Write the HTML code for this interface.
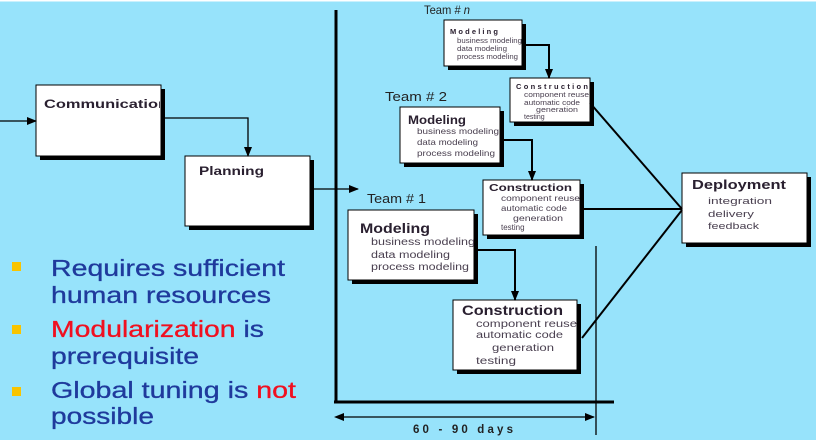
<!DOCTYPE html>
<html><head><meta charset="utf-8"><style>
html,body{margin:0;padding:0;background:#97e3fb;}
svg{display:block}
text{font-family:"Liberation Sans",Arial,sans-serif}
.h{font-weight:bold;fill:#2a2030}
.s{fill:#4a4050}
.b{font-size:23px;fill:#1f3a9c;stroke:#1f3a9c;stroke-width:0.3}
.r{fill:#f01020;stroke:#f01020}
</style></head><body>
<svg width="816" height="440" viewBox="0 0 816 440" xmlns="http://www.w3.org/2000/svg">
<defs>
<marker id="a" markerWidth="10" markerHeight="10" refX="9" refY="5" orient="auto" markerUnits="userSpaceOnUse"><path d="M0,1 L10,5 L0,9 z" fill="#000"/></marker>
<clipPath id="cc"><rect x="36" y="85" width="124" height="71"/></clipPath>
<clipPath id="cm"><rect x="348" y="210" width="126" height="70"/></clipPath>
</defs>
<rect width="816" height="440" fill="#97e3fb"/>
<rect width="816" height="1.5" fill="#ffffff"/>
<g fill="#000">
<rect x="40" y="89" width="125" height="71"/>
<rect x="189" y="160" width="125" height="70"/>
<rect x="448" y="24" width="78" height="46"/>
<rect x="514" y="82" width="80" height="44"/>
<rect x="404" y="111" width="100" height="56"/>
<rect x="487" y="184" width="97" height="55"/>
<rect x="352" y="214" width="126" height="70"/>
<rect x="457" y="304" width="124" height="70"/>
<rect x="686" y="177" width="125" height="70"/>
</g>
<g fill="#fff" stroke="#000" stroke-width="1">
<rect x="36" y="85" width="125" height="71"/>
<rect x="185" y="156" width="125" height="70"/>
<rect x="444" y="20" width="78" height="46"/>
<rect x="510" y="78" width="80" height="44"/>
<rect x="400" y="107" width="100" height="56"/>
<rect x="483" y="180" width="97" height="55"/>
<rect x="348" y="210" width="126" height="70"/>
<rect x="453" y="300" width="124" height="70"/>
<rect x="682" y="173" width="125" height="70"/>
</g>
<g stroke="#000" fill="none" stroke-width="1.3">
<line x1="0" y1="121" x2="36" y2="121" marker-end="url(#a)"/>
<polyline points="161,118 248,118 248,156" marker-end="url(#a)"/>
<line x1="310" y1="189" x2="358" y2="189" marker-end="url(#a)"/>
</g>
<g stroke="#000" fill="none" stroke-width="2">
<polyline points="522,45 549,45 549,78" marker-end="url(#a)"/>
<polyline points="500,140 532,140 532,180" marker-end="url(#a)"/>
<polyline points="474,250 515,250 515,300" marker-end="url(#a)"/>
<line x1="590" y1="103" x2="682" y2="209"/>
<line x1="580" y1="209" x2="682" y2="209"/>
<line x1="582" y1="338" x2="682" y2="210"/>
</g>
<line x1="336" y1="10" x2="336" y2="403" stroke="#000" stroke-width="3"/>
<line x1="334" y1="402" x2="614" y2="402" stroke="#000" stroke-width="3"/>
<line x1="596" y1="246" x2="596" y2="435" stroke="#000" stroke-width="1.3"/>
<line x1="343" y1="417" x2="594" y2="417" stroke="#000" stroke-width="1.3" marker-end="url(#a)"/>
<path d="M334,417 L344,413 L344,421 z" fill="#000"/>
<text x="413" y="433" font-size="11.5" font-weight="bold" fill="#222" textLength="100" lengthAdjust="spacing">60 - 90 days</text>
<text x="44" y="108" font-size="12" class="h" clip-path="url(#cc)" textLength="124" lengthAdjust="spacingAndGlyphs">Communication</text>
<text x="199" y="175" font-size="12" class="h" textLength="65" lengthAdjust="spacingAndGlyphs">Planning</text>
<text x="424" y="14" font-size="12" fill="#222" textLength="46" lengthAdjust="spacingAndGlyphs">Team # <tspan font-style="italic">n</tspan></text>
<text x="385" y="101" font-size="13" fill="#222" textLength="62" lengthAdjust="spacingAndGlyphs">Team # 2</text>
<text x="367" y="203" font-size="13" fill="#222" textLength="59" lengthAdjust="spacingAndGlyphs">Team # 1</text>
<text x="450" y="34" class="h" font-size="7.5" textLength="48" lengthAdjust="spacing">Modeling</text>
<g font-size="7">
<text x="457" y="43" class="s" textLength="65" lengthAdjust="spacingAndGlyphs">business modeling</text>
<text x="457" y="51" class="s" textLength="50" lengthAdjust="spacingAndGlyphs">data modeling</text>
<text x="457" y="59" class="s" textLength="61" lengthAdjust="spacingAndGlyphs">process modeling</text>
<text x="524" y="97" class="s" textLength="65" lengthAdjust="spacingAndGlyphs">component reuse</text>
<text x="524" y="105" class="s" textLength="56" lengthAdjust="spacingAndGlyphs">automatic code</text>
<text x="536" y="112" class="s" textLength="42" lengthAdjust="spacingAndGlyphs">generation</text>
<text x="524" y="119" class="s">testing</text>
</g>
<text x="516" y="89" class="h" font-size="7.5" textLength="72" lengthAdjust="spacing">Construction</text>
<text x="408" y="124" font-size="12" class="h" textLength="58" lengthAdjust="spacingAndGlyphs">Modeling</text>
<g font-size="8.5" class="s">
<text x="417" y="134" textLength="82" lengthAdjust="spacingAndGlyphs">business modeling</text>
<text x="417" y="145" textLength="61" lengthAdjust="spacingAndGlyphs">data modeling</text>
<text x="417" y="156" textLength="78" lengthAdjust="spacingAndGlyphs">process modeling</text>
</g>
<text x="489" y="191" font-size="10.5" class="h" textLength="83" lengthAdjust="spacingAndGlyphs">Construction</text>
<g font-size="8" class="s">
<text x="501" y="201" textLength="79" lengthAdjust="spacingAndGlyphs">component reuse</text>
<text x="501" y="211" textLength="66" lengthAdjust="spacingAndGlyphs">automatic code</text>
<text x="513" y="221" textLength="50" lengthAdjust="spacingAndGlyphs">generation</text>
<text x="501" y="230">testing</text>
</g>
<text x="360" y="233" font-size="14" class="h" textLength="70" lengthAdjust="spacingAndGlyphs">Modeling</text>
<g font-size="10" class="s">
<text x="371" y="245" clip-path="url(#cm)" textLength="104" lengthAdjust="spacingAndGlyphs">business modeling</text>
<text x="371" y="258" textLength="79" lengthAdjust="spacingAndGlyphs">data modeling</text>
<text x="371" y="270" textLength="98" lengthAdjust="spacingAndGlyphs">process modeling</text>
</g>
<text x="462" y="315" font-size="13.5" class="h" textLength="101" lengthAdjust="spacingAndGlyphs">Construction</text>
<g font-size="10" class="s">
<text x="476" y="327" textLength="101" lengthAdjust="spacingAndGlyphs">component reuse</text>
<text x="476" y="338" textLength="87" lengthAdjust="spacingAndGlyphs">automatic code</text>
<text x="492" y="351" textLength="62" lengthAdjust="spacingAndGlyphs">generation</text>
<text x="476" y="364" textLength="40" lengthAdjust="spacingAndGlyphs">testing</text>
</g>
<text x="692" y="189" font-size="13" class="h" textLength="94" lengthAdjust="spacingAndGlyphs">Deployment</text>
<g font-size="9.5" class="s">
<text x="708" y="204" textLength="64" lengthAdjust="spacingAndGlyphs">integration</text>
<text x="708" y="217" textLength="46" lengthAdjust="spacingAndGlyphs">delivery</text>
<text x="708" y="229" textLength="51" lengthAdjust="spacingAndGlyphs">feedback</text>
</g>
<g fill="#f8c400">
<rect x="12" y="262" width="9" height="9"/>
<rect x="12" y="325" width="9" height="9"/>
<rect x="12" y="387" width="9" height="9"/>
</g>
<text x="51" y="276" class="b" textLength="234" lengthAdjust="spacingAndGlyphs">Requires sufficient</text>
<text x="51" y="303" class="b" textLength="220" lengthAdjust="spacingAndGlyphs">human resources</text>
<text x="51" y="337" class="b" textLength="213" lengthAdjust="spacingAndGlyphs"><tspan class="r">Modularization</tspan> is</text>
<text x="51" y="364" class="b" textLength="148" lengthAdjust="spacingAndGlyphs">prerequisite</text>
<text x="51" y="398" class="b" textLength="245" lengthAdjust="spacingAndGlyphs">Global tuning is <tspan class="r">not</tspan></text>
<text x="51" y="424" class="b" textLength="103" lengthAdjust="spacingAndGlyphs">possible</text>
</svg>
</body></html>
